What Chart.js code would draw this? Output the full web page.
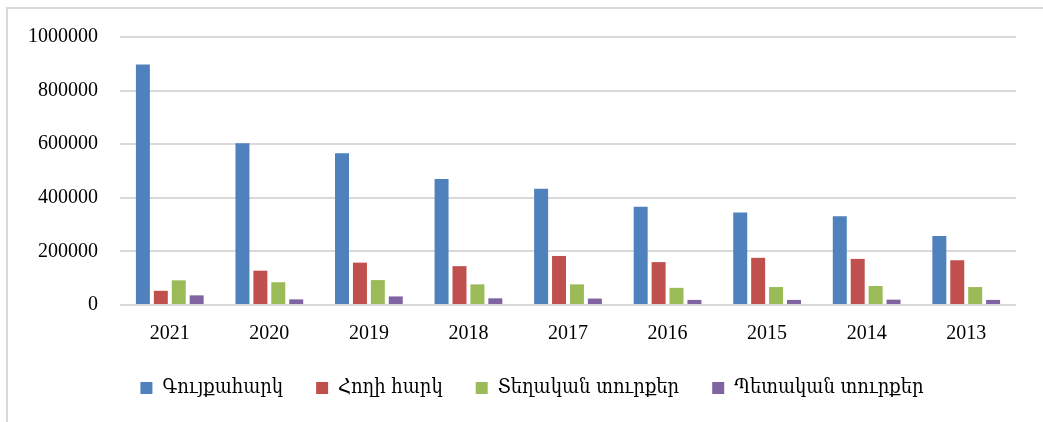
<!DOCTYPE html>
<html>
<head>
<meta charset="utf-8">
<script src="https://cdn.jsdelivr.net/npm/chart.js@4/dist/chart.umd.min.js"></script>
<style>
  body { margin: 0; background: #fff; }
  #wrap { position: relative; width: 1043px; height: 422px; }
  #frame { position: absolute; left: 6px; top: 7px; right: -10px; bottom: -10px;
           border-left: 2px solid #d9d9d9; border-top: 2px solid #d9d9d9; }
</style>
</head>
<body>
<div id="wrap">
  <div id="frame"></div>
  <canvas id="chart1" width="1043" height="422"></canvas>
</div>
<script>
// data
var years = ['2021', '2020', '2019', '2018', '2017', '2016', '2015', '2014', '2013'];
var propertyTax = [897000, 604000, 566000, 470000, 434000, 367000, 345000, 331000, 257000];
var landTax = [53000, 128000, 158000, 145000, 183000, 160000, 176000, 172000, 167000];
var localFees = [92000, 85000, 93000, 77000, 77000, 64000, 67000, 71000, 67000];
var stateFees = [36000, 21000, 32000, 25000, 24000, 19000, 19000, 20000, 19000];
var seriesNames = ['Գույքահարկ', 'Հողի հարկ', 'Տեղական տուրքեր', 'Պետական տուրքեր'];
var yTicks = [0, 200000, 400000, 600000, 800000, 1000000];

var serif = '"Liberation Serif", "DejaVu Serif", serif';

const ctx1 = document.getElementById('chart1').getContext('2d');

// the legend sits a bit right of the canvas centre in the original
var legendShift = {
    id: 'legendShift',
    afterLayout: function(chart) {
        chart.legend.left += 24;
        chart.legend.right += 24;
    }
};

var graphData1 = {
    type: 'bar',
    data: {
        labels: years,
        datasets: [
            { label: seriesNames[0], data: propertyTax, backgroundColor: '#4F81BD' },
            { label: seriesNames[1], data: landTax, backgroundColor: '#C0504D' },
            { label: seriesNames[2], data: localFees, backgroundColor: '#9BBB59' },
            { label: seriesNames[3], data: stateFees, backgroundColor: '#8064A2' }
        ]
    },
    options: {
        responsive: false,
        animation: false,
        datasets: {
            bar: { categoryPercentage: 0.72, barPercentage: 0.78 }
        },
        layout: { padding: { top: 37, right: 27, bottom: 14, left: 0 } },
        plugins: {
            tooltip: { enabled: false },
            legend: {
                position: 'bottom',
                labels: {
                    boxWidth: 12,
                    boxHeight: 12,
                    padding: 33,
                    color: '#000',
                    font: { family: '"DejaVu Serif Condensed", "DejaVu Serif", serif', size: 20 }
                }
            }
        },
        scales: {
            x: {
                grid: { display: false },
                border: { display: false },
                ticks: { color: '#000', padding: 9, font: { family: serif, size: 20 } },
                afterFit: function(scale) { scale.height = 40; }
            },
            y: {
                min: yTicks[0],
                max: yTicks[yTicks.length - 1],
                grid: { color: '#d9d9d9', lineWidth: 2, drawTicks: false },
                border: { display: false },
                afterBuildTicks: function(scale) {
                    scale.ticks = yTicks.map(function(v) { return { value: v }; });
                },
                ticks: {
                    color: '#000', padding: 22, font: { family: serif, size: 20 },
                    callback: function(v) { return String(v); }
                },
                afterFit: function(scale) { scale.width = 120; }
            }
        }
    },
    plugins: [legendShift]
};

const charts = [new Chart(ctx1, graphData1)];
</script>
</body>
</html>
